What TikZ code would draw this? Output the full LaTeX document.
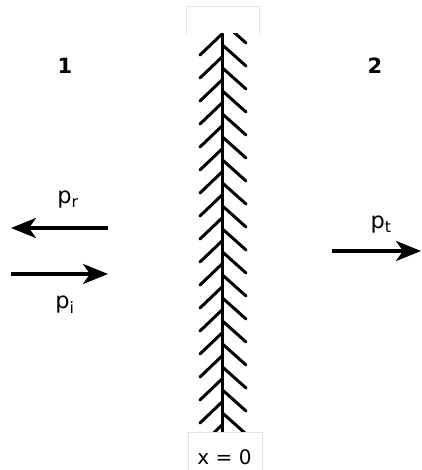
\documentclass[tikz,border=0pt]{standalone}
\usepackage{fontspec}
\setmainfont{DejaVu Sans}
\usetikzlibrary{arrows.meta}
\definecolor{boxline}{gray}{0.89}
\tikzset{
  wave/.style={line width=3.3pt,-{Stealth[length=25pt,width=20pt,inset=7pt]}},
  barb/.style={line width=3pt,line cap=round},
  wall/.style={line width=3.4pt},
  lab/.style={inner sep=0pt,font=\fontsize{20}{22}\selectfont},
  sym/.style={inner sep=0pt,font=\fontsize{22.5}{24}\selectfont},
  region/.style={inner sep=0pt,font=\fontsize{21}{23}\selectfont\bfseries},
  edge/.style={draw=boxline,line width=1pt}
}
\begin{document}
\begin{tikzpicture}[x=1pt,y=-1pt]
\useasboundingbox (0,0) rectangle (421,470);
\fill[white] (0,0) rectangle (421,470);
\begin{scope}
  \clip (150,34) rectangle (290,432);
  \coordinate (wt) at (222.5,34);
  \coordinate (wb) at (222.5,432);
  \draw[wall] (wt) -- (wb);
  \foreach \k in {0,...,17}{
    \draw[barb] (222.5,{33.5+23*\k}) -- (200,{55+23*\k});
  }
  \foreach \k in {-1,...,16}{
    \draw[barb] (222.5,{45+23*\k}) -- (246,{66+23*\k});
  }
\end{scope}
\draw[edge] (186.5,34) -- (186.5,7) -- (259,7) -- (259,34);
\draw[edge] (188.5,470) -- (188.5,432.5) -- (262,432.5) -- (262,470);
\node[lab] (x0) at (224.5,457) {x = 0};
\node[region] (one) at (65,66) {1};
\node[region] (two) at (375,66) {2};
\coordinate (rs) at (108,228);
\coordinate (re) at (11,228);
\coordinate (is) at (11,274);
\coordinate (ie) at (108,274);
\coordinate (ts) at (332,251);
\coordinate (te) at (421,251);
\draw[wave] (rs) -- (re);
\draw[wave] (is) -- (ie);
\draw[wave] (ts) -- (te);
\node[sym] (pr) at (68,200) {p\textsubscript{r}};
\node[sym] (pi) at (65,305) {p\textsubscript{i}};
\node[sym] (pt) at (381,225) {p\textsubscript{t}};
\end{tikzpicture}
\end{document}
